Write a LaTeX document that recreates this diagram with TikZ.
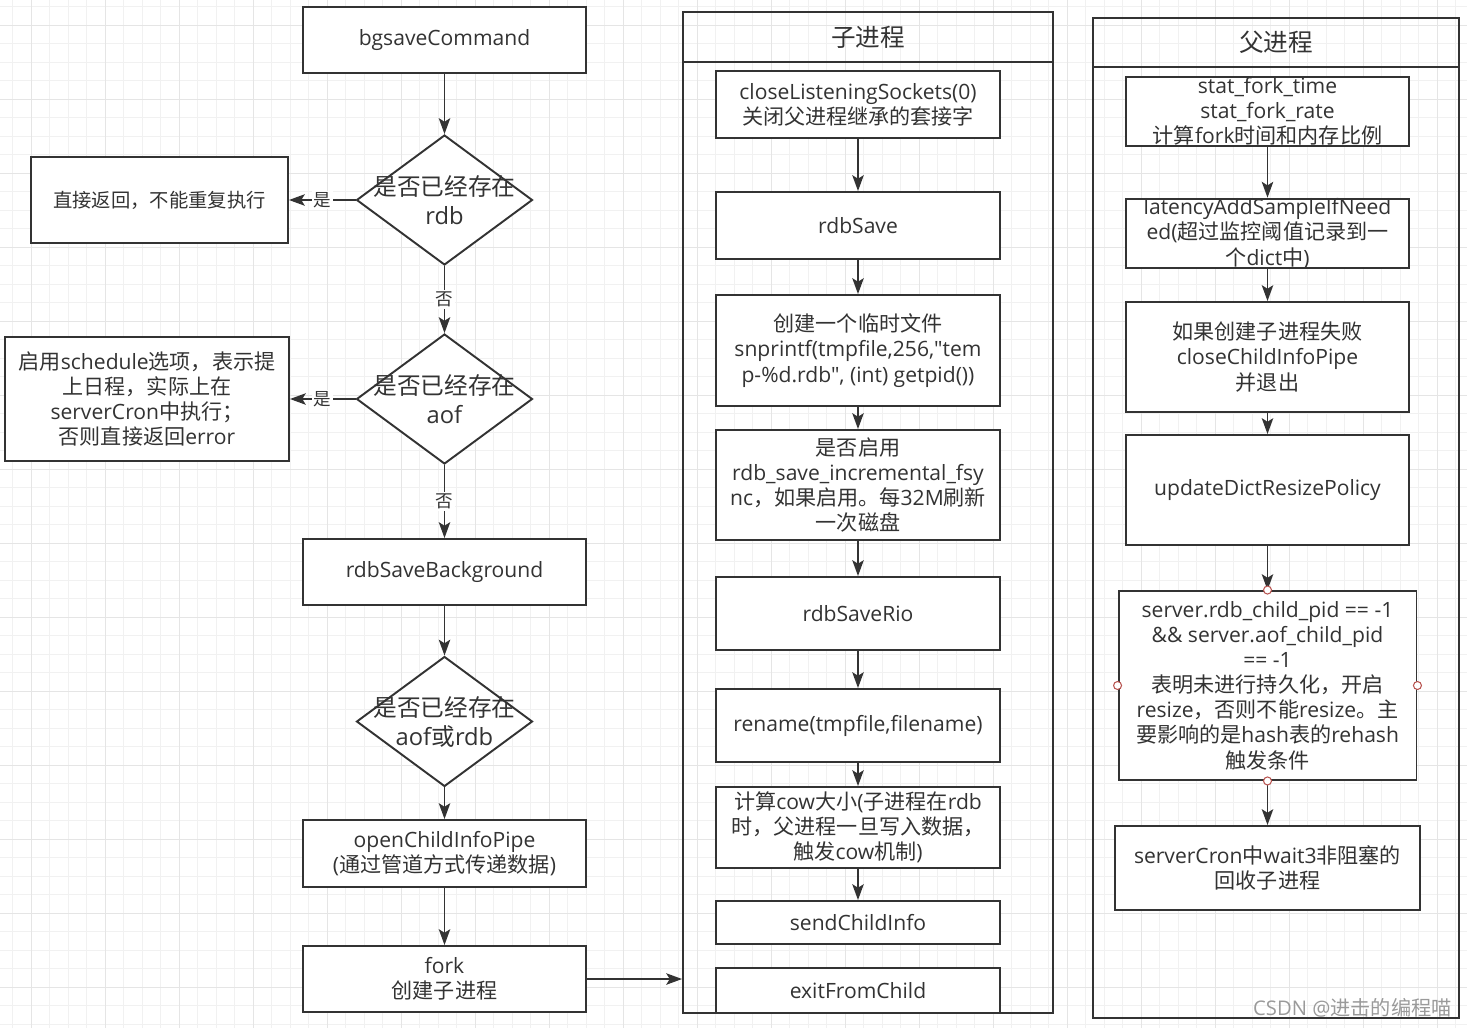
\documentclass[tikz,border=0pt]{standalone}
\usepackage{fontspec}
\setmainfont{Open Sans}[Ligatures=TeXOff]
\newfontfamily\cjkfont{Noto Sans CJK SC}
\XeTeXinterchartokenstate=1
\newXeTeXintercharclass\cjkclass
\newcount\cjkcode
\def\setcjkrange#1#2{\cjkcode=#1 \loop\XeTeXcharclass\cjkcode=\cjkclass\advance\cjkcode by 1 \ifnum\cjkcode<#2 \repeat}
\setcjkrange{"3000}{"3040}
\setcjkrange{"4E00}{"9FB0}
\setcjkrange{"FF00}{"FFF0}
\XeTeXinterchartoks 0 \cjkclass={\cjkfont}
\XeTeXinterchartoks 4095 \cjkclass={\cjkfont}
\XeTeXinterchartoks \cjkclass 0={\rmfamily}
\XeTeXinterchartoks \cjkclass 4095={\rmfamily}
\usetikzlibrary{shapes.geometric,arrows.meta}
\definecolor{inkc}{HTML}{333333}
\definecolor{gridc}{HTML}{F1F1F1}
\definecolor{gridmc}{HTML}{E5E5E5}
\definecolor{handlec}{HTML}{B85450}
\definecolor{markc}{HTML}{9A9A9A}
\tikzset{>={Stealth[length=9pt,width=6.5pt,inset=2pt]}}
\tikzset{
  box/.style={draw=inkc,line width=1.1pt,fill=white,text=inkc,align=center,inner sep=0pt,
    minimum width=5.66cm,font=\fontsize{12}{14.3}\selectfont},
  decide/.style={diamond,draw=inkc,line width=1.1pt,fill=white,inner sep=0pt,
    minimum width=3.52cm,minimum height=2.6cm},
  dtext/.style={text=inkc,align=center,inner sep=0pt,font=\fontsize{13.5}{16.5}\selectfont},
  lane/.style={draw=inkc,line width=1.1pt,inner sep=0pt,text=inkc},
  lanetitle/.style={font=\fontsize{14}{16}\selectfont},
  tag/.style={fill=white,text=inkc,inner sep=1pt,font=\fontsize{10}{11}\selectfont},
  handle/.style={circle,draw=handlec,fill=white,line width=0.6pt,inner sep=0pt,minimum size=0.16cm},
  flow/.style={->,draw=inkc,line width=1.1pt},
  gridminor/.style={draw=gridc,line width=0.55pt},
  gridmajor/.style={draw=gridmc,line width=0.55pt}
}

\begin{document}
\begin{tikzpicture}[x=0.02cm,y=-0.02cm]
\useasboundingbox (0,0) rectangle (1467,1028);
\foreach \k in {0,...,78} \draw[gridminor] ({12.7+18.5*\k},0) -- ({12.7+18.5*\k},1028);
\foreach \k in {0,...,55} \draw[gridminor] (0,{6.8+18.5*\k}) -- (1467,{6.8+18.5*\k});
\foreach \k in {0,...,19} \draw[gridmajor] ({31.7+74*\k},0) -- ({31.7+74*\k},1028);
\foreach \k in {0,...,13} \draw[gridmajor] (0,{25.3+74*\k}) -- (1467,{25.3+74*\k});

\node[lane,minimum width=7.4cm,minimum height=20.02cm] (child) at (868,512.5) {};
\node[lane,lanetitle,minimum width=7.4cm,minimum height=1cm] (childtitle) at (868,37) {子进程};
\node[lane,minimum width=7.32cm,minimum height=20cm] (parent) at (1276,518) {};
\node[lane,lanetitle,minimum width=7.32cm,minimum height=0.98cm] (parenttitle) at (1276,42.5) {父进程};

\node[box,minimum height=1.32cm] (bgsave) at (444.5,40) {bgsaveCommand};
\node[decide] (hasrdb) at (444.5,200) {};
\node[dtext] (hasrdbtext) at (hasrdb) {是否已经存在\\rdb};
\node[box,minimum width=5.14cm,minimum height=1.72cm,font=\fontsize{11}{13}\selectfont] (retdirect) at (159.5,200) {直接返回，不能重复执行};
\node[decide] (hasaof) at (444.5,399) {};
\node[dtext] (hasaoftext) at (hasaof) {是否已经存在\\aof};
\node[box,minimum width=5.68cm,minimum height=2.48cm] (schedule) at (147,399) {启用schedule选项，表示提\\上日程，实际上在\\serverCron中执行；\\否则直接返回error};
\node[box,minimum height=1.32cm] (rdbbg) at (444.5,572) {rdbSaveBackground};
\node[decide] (hasany) at (444.5,721.5) {};
\node[dtext] (hasanytext) at (hasany) {是否已经存在\\aof或rdb};
\node[box,minimum height=1.34cm] (openpipe) at (444.5,853.5) {openChildInfoPipe\\(通过管道方式传递数据)};
\node[box,minimum height=1.32cm] (fork) at (444.5,979) {fork\\创建子进程};

\node[box,minimum width=5.68cm,minimum height=1.34cm] (closesock) at (858,104.5) {closeListeningSockets(0)\\关闭父进程继承的套接字};
\node[box,minimum width=5.68cm,minimum height=1.34cm] (rsave) at (858,225.5) {rdbSave};
\node[box,minimum width=5.68cm,minimum height=2.22cm] (tmpfile) at (858,350.5) {创建一个临时文件\\snprintf(tmpfile,256,"tem\\p-\%d.rdb", (int) getpid())};
\node[box,minimum width=5.68cm,minimum height=2.2cm] (fsync) at (858,485) {是否启用\\rdb\_save\_incremental\_fsy\\nc，如果启用。每32M刷新\\一次磁盘};
\node[box,minimum width=5.68cm,minimum height=1.46cm] (saverio) at (858,613.5) {rdbSaveRio};
\node[box,minimum width=5.68cm,minimum height=1.46cm] (rename) at (858,725.5) {rename(tmpfile,filename)};
\node[box,minimum width=5.68cm,minimum height=1.62cm] (cow) at (858,827.5) {计算cow大小(子进程在rdb\\时，父进程一旦写入数据，\\触发cow机制)};
\node[box,minimum width=5.68cm,minimum height=0.86cm] (sendinfo) at (858,922.5) {sendChildInfo};
\node[box,minimum width=5.68cm,minimum height=0.9cm] (exitchild) at (858,990.5) {exitFromChild};

\node[box,minimum height=1.34cm] (forkstat) at (1267.5,111.5) {stat\_fork\_time\\stat\_fork\_rate\\计算fork时间和内存比例};
\node[box,minimum height=1.34cm] (latency) at (1267.5,233.5) {latencyAddSampleIfNeed\\ed(超过监控阈值记录到一\\个dict中)};
\node[box,minimum height=2.2cm] (failexit) at (1267.5,357) {如果创建子进程失败\\closeChildInfoPipe\\并退出};
\node[box,minimum height=2.2cm] (resizepol) at (1267.5,490) {updateDictResizePolicy};
\node[box,minimum width=5.96cm,minimum height=3.78cm] (resizecond) at (1267.5,685.5) {server.rdb\_child\_pid == -1\\\&\& server.aof\_child\_pid\\== -1\\表明未进行持久化，开启\\resize，否则不能resize。主\\要影响的是hash表的rehash\\触发条件};
\node[box,minimum width=6.1cm,minimum height=1.68cm] (reap) at (1267.5,868) {serverCron中wait3非阻塞的\\回收子进程};

\draw[flow] (bgsave) -- (hasrdb);
\draw[flow] (hasrdb) -- node[tag] (yesrdb) {是} (retdirect);
\draw[flow] (hasrdb) -- node[tag] (nordb) {否} (hasaof);
\draw[flow] (hasaof) -- node[tag] (yesaof) {是} (schedule);
\draw[flow] (hasaof) -- node[tag] (noaof) {否} (rdbbg);
\draw[flow] (rdbbg) -- (hasany);
\draw[flow] (hasany) -- (openpipe);
\draw[flow] (openpipe) -- (fork);
\draw[flow] (fork.east) -- (fork.east -| child.west);

\foreach \a/\b in {closesock/rsave,rsave/tmpfile,tmpfile/fsync,fsync/saverio,saverio/rename,rename/cow,cow/sendinfo}
  \draw[flow] (\a) -- (\b);
\foreach \a/\b in {forkstat/latency,latency/failexit,failexit/resizepol,resizepol/resizecond,resizecond/reap}
  \draw[flow] (\a) -- (\b);

\foreach \p in {north,south,east,west}
  \node[handle] (cond\p) at (resizecond.\p) {};

\node[anchor=east,inner sep=0pt,text=markc,font=\fontsize{11.5}{13}\selectfont] (mark) at (1452,1008) {CSDN @进击的编程喵};
\end{tikzpicture}
\end{document}
